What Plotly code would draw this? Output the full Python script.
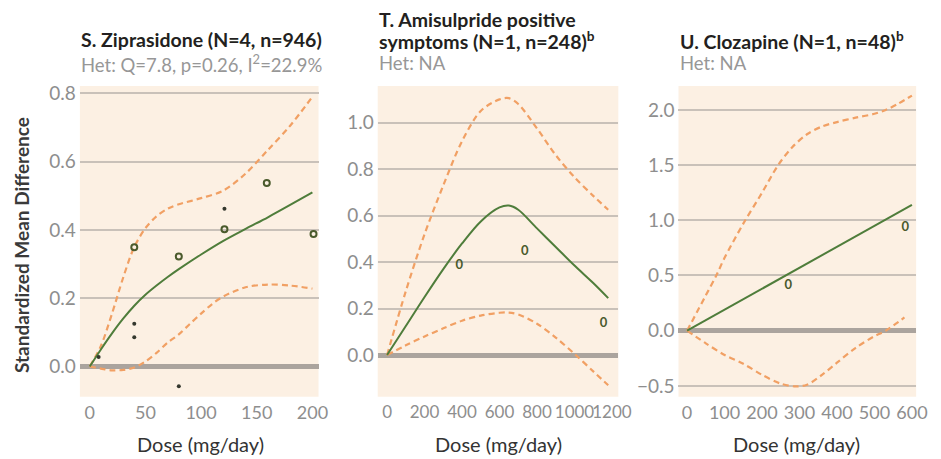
import plotly.graph_objects as go

# ---- Ziprasidone (panel S) ----
zip_dose = [0, 10, 20, 30, 40, 50, 60, 70, 80, 100, 120, 140, 160, 180, 200]
zip_fit = [0, 0.05, 0.097, 0.14, 0.178, 0.21, 0.237, 0.262, 0.285, 0.328, 0.368, 0.403, 0.437, 0.473, 0.51]
zip_upper_dose = [0, 10, 20, 30, 40, 50, 60, 70, 80, 100, 120, 140, 160, 180, 200]
zip_upper = [0, 0.06, 0.155, 0.26, 0.35, 0.405, 0.44, 0.462, 0.475, 0.493, 0.515, 0.565, 0.634, 0.705, 0.79]
zip_lower_dose = [0, 10, 20, 30, 40, 50, 60, 70, 80, 90, 100, 110, 120, 140, 160, 180, 200]
zip_lower = [0, -0.006, -0.011, -0.01, -0.003, 0.015, 0.04, 0.07, 0.094, 0.125, 0.155, 0.183, 0.205, 0.232, 0.24, 0.237, 0.228]
zip_arm_dose = [40, 80, 121, 159, 201]
zip_arm_smd = [0.349, 0.322, 0.402, 0.537, 0.388]
zip_dot_dose = [8, 40, 40, 80, 121]
zip_dot_smd = [0.028, 0.125, 0.086, -0.058, 0.462]

# ---- Amisulpride positive symptoms (panel T) ----
ami_dose = [0, 100, 200, 300, 400, 500, 600, 650, 700, 800, 900, 1000, 1100, 1180]
ami_fit = [0, 0.125, 0.25, 0.37, 0.48, 0.575, 0.635, 0.643, 0.625, 0.545, 0.465, 0.385, 0.31, 0.245]
ami_upper_dose = [0, 100, 200, 300, 400, 500, 600, 650, 700, 800, 900, 1000, 1100, 1180]
ami_upper = [0, 0.275, 0.52, 0.73, 0.92, 1.05, 1.1, 1.105, 1.08, 0.975, 0.86, 0.765, 0.685, 0.625]
ami_lower = [0, 0.042, 0.08, 0.115, 0.148, 0.17, 0.182, 0.183, 0.175, 0.135, 0.075, 0.005, -0.07, -0.13]
ami_arm_dose = [385, 735, 1155]
ami_arm_smd = [0.386, 0.445, 0.133]

# ---- Clozapine (panel U) ----
clo_dose = [0, 600]
clo_fit = [0, 1.14]
clo_upper_dose = [0, 50, 78, 100, 150, 200, 243, 280, 320, 360, 400, 450, 500, 530, 560, 600]
clo_upper = [0, 0.32, 0.5, 0.66, 0.97, 1.25, 1.5, 1.66, 1.78, 1.85, 1.89, 1.93, 1.965, 2.0, 2.05, 2.13]
clo_lower_dose = [0, 50, 100, 150, 200, 250, 290, 320, 360, 400, 450, 500, 530, 580]
clo_lower = [0, -0.115, -0.22, -0.3, -0.4, -0.48, -0.505, -0.49, -0.4, -0.29, -0.155, -0.05, 0.0, 0.12]
clo_arm_dose = [270, 582]
clo_arm_smd = [0.403, 0.929]

# tick values
zip_xticks = [0, 50, 100, 150, 200]
ami_xticks = [0, 200, 400, 600, 800, 1000, 1200]
clo_xticks = [0, 100, 200, 300, 400, 500, 600]
zip_yticks = [0.0, 0.2, 0.4, 0.6, 0.8]
ami_yticks = [0.0, 0.2, 0.4, 0.6, 0.8, 1.0]
clo_yticks = [-0.5, 0.0, 0.5, 1.0, 1.5, 2.0]

W, H = 941, 459
GREEN = "#4f7d3b"
ORANGE = "#f1a064"
PLOT_BG = "#fcf0e3"
GRID = "#c9c1b9"
ZERO = "#aba49e"
TICK = "#8e8e8e"
FONT = "Lato"

fig = go.Figure()


def px_x(p):
    return p / W


def px_y(p):
    return 1 - p / H


def add_panel(idx, fit_x, fit_y, up_x, up_y, lo_x, lo_y):
    xa = "x" if idx == 1 else f"x{idx}"
    ya = "y" if idx == 1 else f"y{idx}"
    dash = dict(color=ORANGE, width=2.2, dash="6px,4px", shape="spline", smoothing=0.9)
    fig.add_trace(go.Scatter(x=up_x, y=up_y, mode="lines", line=dash, xaxis=xa, yaxis=ya, hoverinfo="skip"))
    fig.add_trace(go.Scatter(x=lo_x, y=lo_y, mode="lines", line=dash, xaxis=xa, yaxis=ya, hoverinfo="skip"))
    fig.add_trace(go.Scatter(x=fit_x, y=fit_y, mode="lines",
                             line=dict(color=GREEN, width=2, shape="spline", smoothing=0.9),
                             xaxis=xa, yaxis=ya, hoverinfo="skip"))


add_panel(1, zip_dose, zip_fit, zip_upper_dose, zip_upper, zip_lower_dose, zip_lower)
add_panel(2, ami_dose, ami_fit, ami_upper_dose, ami_upper, ami_dose, ami_lower)
add_panel(3, clo_dose, clo_fit, clo_upper_dose, clo_upper, clo_lower_dose, clo_lower)

# study arms
fig.add_trace(go.Scatter(x=zip_arm_dose, y=zip_arm_smd, mode="markers",
                         marker=dict(symbol="circle-open", size=6, color="#4a5a2c", line=dict(width=2)),
                         xaxis="x", yaxis="y", hoverinfo="skip"))
fig.add_trace(go.Scatter(x=zip_dot_dose, y=zip_dot_smd, mode="markers",
                         marker=dict(size=4, color="#34382e"),
                         xaxis="x", yaxis="y", hoverinfo="skip"))
fig.add_trace(go.Scatter(x=ami_arm_dose, y=ami_arm_smd, mode="text", text=["0"] * len(ami_arm_dose),
                         textfont=dict(family=FONT, size=13, color="#4a5a2c", weight="bold"),
                         xaxis="x2", yaxis="y2", hoverinfo="skip"))
fig.add_trace(go.Scatter(x=clo_arm_dose, y=clo_arm_smd, mode="text", text=["0"] * len(clo_arm_dose),
                         textfont=dict(family=FONT, size=13, color="#4a5a2c", weight="bold"),
                         xaxis="x3", yaxis="y3", hoverinfo="skip"))

# axes
ydom = [px_y(396), px_y(82)]
panels = [
    ("", [81, 323], [-8.86, 205.5], [-0.0883, 0.821], zip_xticks, zip_yticks, 18),
    ("2", [383, 627], [-50, 1234], [-0.179, 1.157], ami_xticks, ami_yticks, 17),
    ("3", [688, 929], [-22.9, 611.3], [-0.598, 2.216], clo_xticks, clo_yticks, 18),
]
for suf, dom, xr, yr, xt, yt, xfs in panels:
    fig.update_layout(**{
        f"xaxis{suf}": dict(domain=[px_x(dom[0]), px_x(dom[1])], range=xr, tickvals=xt,
                            showgrid=False, zeroline=False, showline=False, ticks="",
                            tickangle=0, tickfont=dict(family=FONT, size=xfs, color=TICK),
                            ticklabelstandoff=3, anchor=f"y{suf}", fixedrange=True),
        f"yaxis{suf}": dict(domain=ydom, range=yr, tickvals=yt,
                            ticktext=[f"{v:.1f}".replace("-", "\u2212") for v in yt],
                            showgrid=True, gridcolor=GRID, gridwidth=1.5,
                            zeroline=True, zerolinecolor=ZERO, zerolinewidth=5,
                            showline=False, ticks="",
                            tickfont=dict(family=FONT, size=19, color=TICK),
                            ticklabelstandoff=3, anchor=f"x{suf}", fixedrange=True),
    })

# panel backgrounds
for dom in ([81, 323], [383, 627], [688, 929]):
    fig.add_shape(type="rect", xref="paper", yref="paper",
                  x0=px_x(dom[0]), x1=px_x(dom[1]), y0=ydom[0], y1=ydom[1],
                  fillcolor=PLOT_BG, line_width=0, layer="below")

ann = []
TITLE = dict(family=FONT, size=19.5, color="#231f20", weight="bold")
SUB = dict(family=FONT, size=18.5, color="#979797")


def text(x, y, s, font, **kw):
    ann.append(dict(x=px_x(x), y=px_y(y), xref="paper", yref="paper", text=s, showarrow=False,
                    xanchor=kw.get("xanchor", "left"), yanchor="middle", font=font,
                    textangle=kw.get("textangle", 0)))


text(80, 35, "S. Ziprasidone (N=4, n=946)", TITLE)
text(80, 59, "Het: Q=7.8, p=0.26, I<sup>2</sup>=22.9%", SUB)
text(382, 15, "T. Amisulpride positive", TITLE)
text(382, 36, "symptoms (N=1, n=248)<sup>b</sup>", TITLE)
text(382, 59, "Het: NA", SUB)
text(687, 36, "U. Clozapine (N=1, n=48)<sup>b</sup>", TITLE)
text(687, 59, "Het: NA", SUB)

AX = dict(family=FONT, size=20, color="#333333")
for cx in (203, 505, 808):
    text(cx, 444, "Dose (mg/day)", AX, xanchor="center")
text(22, 243, "Standardized Mean Difference", dict(family=FONT, size=19, color="#3a3a3a", weight="bold"),
     xanchor="center", textangle=-90)

fig.update_layout(
    width=W, height=H, margin=dict(l=0, r=0, t=0, b=0),
    paper_bgcolor="white", plot_bgcolor="rgba(0,0,0,0)",
    showlegend=False, annotations=ann,
)

fig.write_html("out.html", config={"displayModeBar": False})
